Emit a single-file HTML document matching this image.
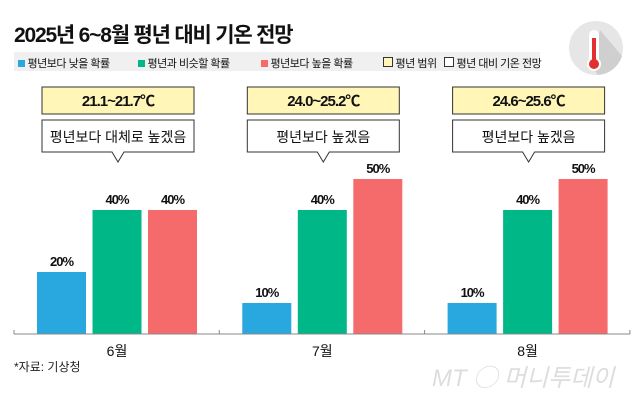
<!DOCTYPE html>
<html><head><meta charset="utf-8"><style>
body{margin:0;width:640px;height:400px;background:#fff;font-family:"Liberation Sans","Noto Sans CJK KR",sans-serif;overflow:hidden;position:relative}
.t{position:absolute;white-space:nowrap}
</style></head><body>
<div class="t" style="left:14px;top:19px;font-size:21px;font-weight:bold;letter-spacing:-1.2px;color:#111">2025년 6~8월 평년 대비 기온 전망</div>
<div style="position:absolute;left:14px;top:52px;width:526px;height:19px;background:#f0f0f0;font-size:11px;letter-spacing:-0.5px;color:#111">
<span class="t" style="left:4px;top:3px"><span style="display:inline-block;width:7px;height:7px;background:#29a8e0"></span> 평년보다 낮을 확률</span>
<span class="t" style="left:124px;top:3px"><span style="display:inline-block;width:7px;height:7px;background:#00b887"></span> 평년과 비슷할 확률</span>
<span class="t" style="left:247px;top:3px"><span style="display:inline-block;width:7px;height:7px;background:#f56b6b"></span> 평년보다 높을 확률</span>
<span class="t" style="left:369px;top:3px"><span style="display:inline-block;width:8px;height:8px;background:#fff6b8;border:1px solid #333"></span> 평년 범위</span>
<span class="t" style="left:430px;top:3px"><span style="display:inline-block;width:8px;height:8px;background:#fff;border:1px solid #333"></span> 평년 대비 기온 전망</span>
</div>
<svg style="position:absolute;left:568px;top:20px" width="56" height="56">
<circle cx="28" cy="28" r="27" fill="#e6e6e6"/>
<path d="M32 10 L54 36 A27 27 0 0 1 30 55 L24 46 Z" fill="#cfcfcf"/>
<rect x="21" y="10" width="10" height="34" rx="5" fill="#fff"/>
<circle cx="26" cy="44" r="7" fill="#fff"/>
<rect x="24" y="18" width="4" height="26" fill="#e03030"/>
<circle cx="26" cy="44" r="5" fill="#e03030"/>
</svg>
<svg id="c" width="640" height="400" style="position:absolute;left:0;top:0"></svg>
<div class="t" style="left:14px;top:358px;font-size:12px;color:#222">*자료: 기상청</div>
<div class="t" style="left:432px;top:358px;font-size:24px;color:#ddd;font-style:italic">MT ◯ 머니투데이</div>
<script>
const months=["6월","7월","8월"];
const lowP=[20,10,10];
const normP=[40,40,40];
const highP=[40,50,50];
const ranges=["21.1~21.7℃","24.0~25.2℃","24.6~25.6℃"];
const outlooks=["평년보다 대체로 높겠음","평년보다 높겠음","평년보다 높겠음"];
const svg=document.getElementById('c');const NS="http://www.w3.org/2000/svg";
const base=334,k=3.1;
function y(v){return base-v*k}
function gx(i){return 14+i*205.3}
function mk(t,a,p){const e=document.createElementNS(NS,t);for(const q in a)e.setAttribute(q,a[q]);(p||svg).appendChild(e);return e}
const series=[lowP,normP,highP],cols=["#29a8e0","#00b887","#f56b6b"],names=["low","normal","high"];
months.forEach((m,i)=>{
 const x0=gx(i);
 series.forEach((s,j)=>{
  const bx=x0+23+j*55.5;
  const r=mk('rect',{x:bx,y:y(s[i]),width:49,height:base-y(s[i]),fill:cols[j]});
  
  
  const t=mk('text',{x:bx+24.5,y:y(s[i])-6,'text-anchor':'middle','font-size':13,'font-weight':'bold',fill:'#111','letter-spacing':'-1'});
  t.textContent=s[i]+'%';
  
  
 });
 const ml=mk('text',{x:x0+103,y:356,'text-anchor':'middle','font-size':14,fill:'#111'});ml.textContent=m;
 
 
 const bx=x0+28;
 const yb=mk('rect',{x:bx,y:87,width:152,height:27,fill:'#fff6b8',stroke:'#333','stroke-width':1});
 
 
 const yt=mk('text',{x:bx+76,y:106,'text-anchor':'middle','font-size':15,'font-weight':'bold',fill:'#111','letter-spacing':'-1'});yt.textContent=ranges[i];
 
 
 const cx=bx+76;
 const wb=mk('path',{d:`M${bx} 120 H${bx+152} V152 H${cx+6} L${cx} 162 L${cx-6} 152 H${bx} Z`,fill:'#fff',stroke:'#333','stroke-width':1});
 
 
 const wt=mk('text',{x:cx,y:142,'text-anchor':'middle','font-size':14,fill:'#111'});wt.textContent=outlooks[i];
 
 
});
const ax=mk('line',{x1:14,x2:630,y1:base,y2:base,stroke:'#888','stroke-width':1});


for(let i=0;i<=3;i++){const tk=mk('line',{x1:gx(i),x2:gx(i),y1:base-4,y2:base,stroke:'#888'});
 
 }
</script>
</body></html>
